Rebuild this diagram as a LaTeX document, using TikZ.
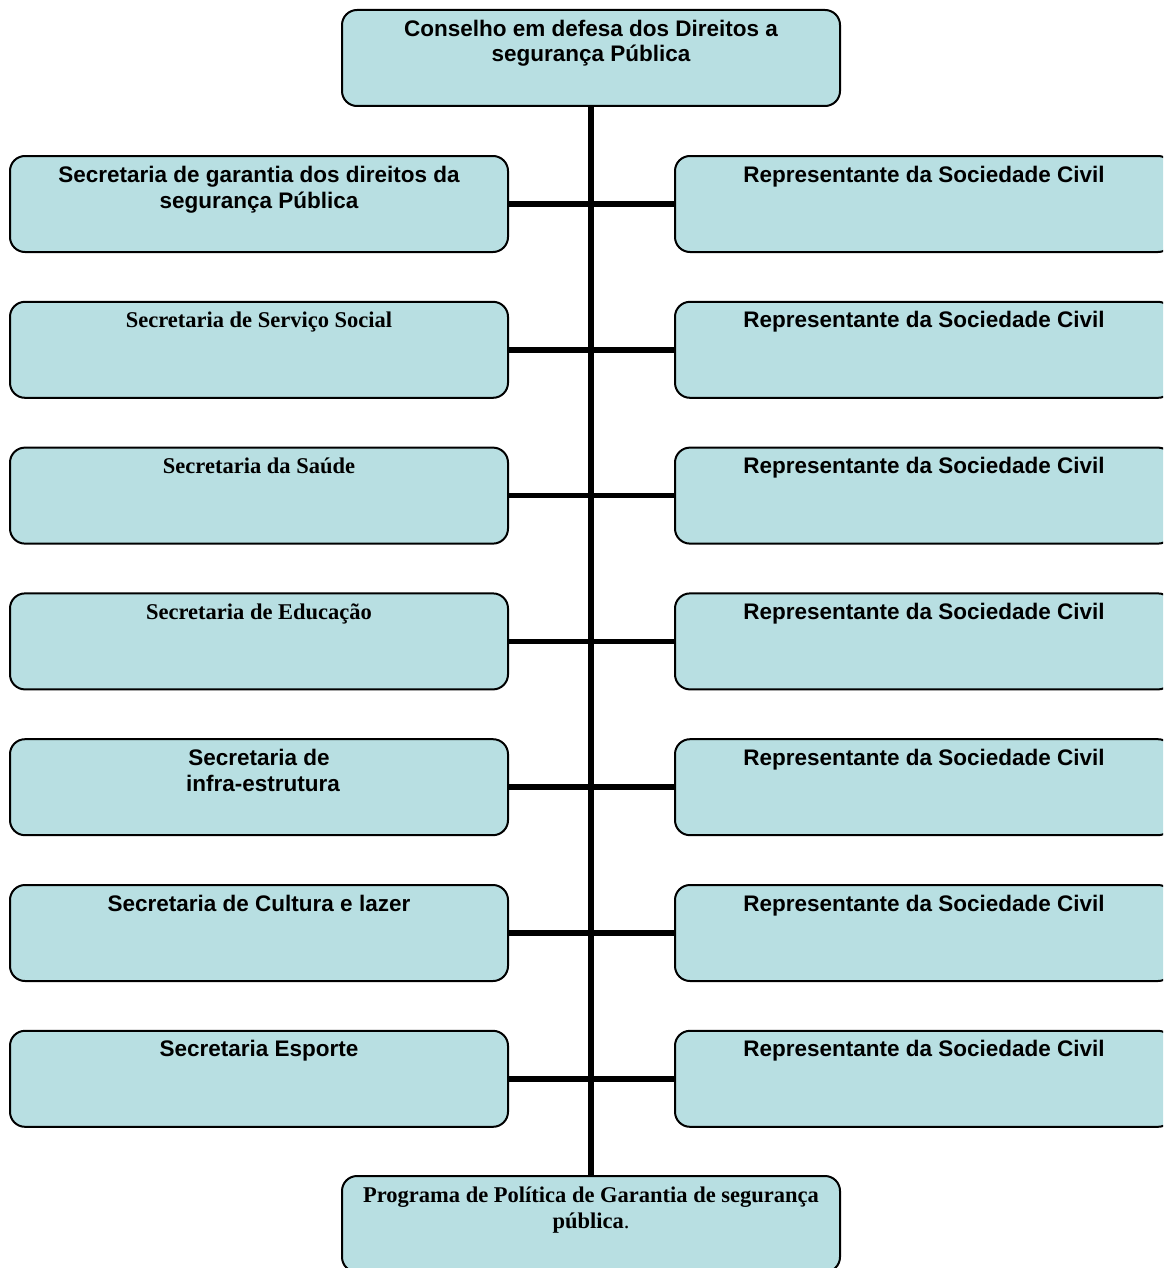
\documentclass[tikz,border=0pt]{standalone}
\usepackage{fontspec}
\setmainfont{Liberation Serif}
\setsansfont{Liberation Sans}
\usetikzlibrary{calc}
\definecolor{boxfill}{RGB}{184,223,226}
\tikzset{
  orgbox/.style={draw=black, line width=1pt, fill=boxfill, rounded corners=7.5pt,
    minimum width=249pt, minimum height=48pt, inner sep=0pt},
  lab/.style={anchor=base, align=center, inner sep=0pt, yshift=-13.5pt},
  twolines/.style={yshift=-13pt},
  sanslab/.style={lab, font=\sffamily\bfseries\fontsize{11.25}{13}\selectfont},
  seriflab/.style={lab, font=\rmfamily\bfseries\fontsize{11.25}{13}\selectfont},
  link/.style={line width=2.8pt, black}
}
\begin{document}
\begin{tikzpicture}[x=0.5pt, y=-0.5pt]
\clip (0,0) rectangle (1163,1268);
\useasboundingbox (0,0) rectangle (1163,1268);

% council on top and programme at the bottom
\node[orgbox] (top) at (591,58) {};
\node[orgbox] (bot) at (591,1224) {};

% secretariats (left) and civil society seats (right)
\foreach \i in {1,...,7} {
  \node[orgbox] (l\i) at (259,{204+145.8*(\i-1)}) {};
  \node[orgbox] (r\i) at (924,{204+145.8*(\i-1)}) {};
}

% connectors
\draw[link] (top.south) -- (bot.north);
\foreach \i in {1,...,7} {
  \draw[link] (l\i.east) -- (r\i.west);
}

% labels (the base anchor of a two-line label sits on its last line)
\node[sanslab, twolines] (topt) at (top.north) {Conselho em defesa dos Direitos a\\segurança Pública};
\node[seriflab, twolines] (bott) at (bot.north) {Programa de Política de Garantia de segurança\\pública{\mdseries.}};

\node[sanslab, twolines] (l1t) at (l1.north) {Secretaria de garantia dos direitos da\\segurança Pública};
\node[seriflab] (l2t) at (l2.north) {Secretaria de Serviço Social};
\node[seriflab] (l3t) at (l3.north) {Secretaria da Saúde};
\node[seriflab] (l4t) at (l4.north) {Secretaria de Educação};
\node[sanslab, twolines] (l5t) at (l5.north) {Secretaria de\\\hspace*{4pt}infra-estrutura};
\node[sanslab] (l6t) at (l6.north) {Secretaria de Cultura e lazer};
\node[sanslab] (l7t) at (l7.north) {Secretaria Esporte};

\foreach \i in {1,...,7} {
  \node[sanslab] (r\i t) at (r\i.north) {Representante da Sociedade Civil};
}
\end{tikzpicture}
\end{document}
